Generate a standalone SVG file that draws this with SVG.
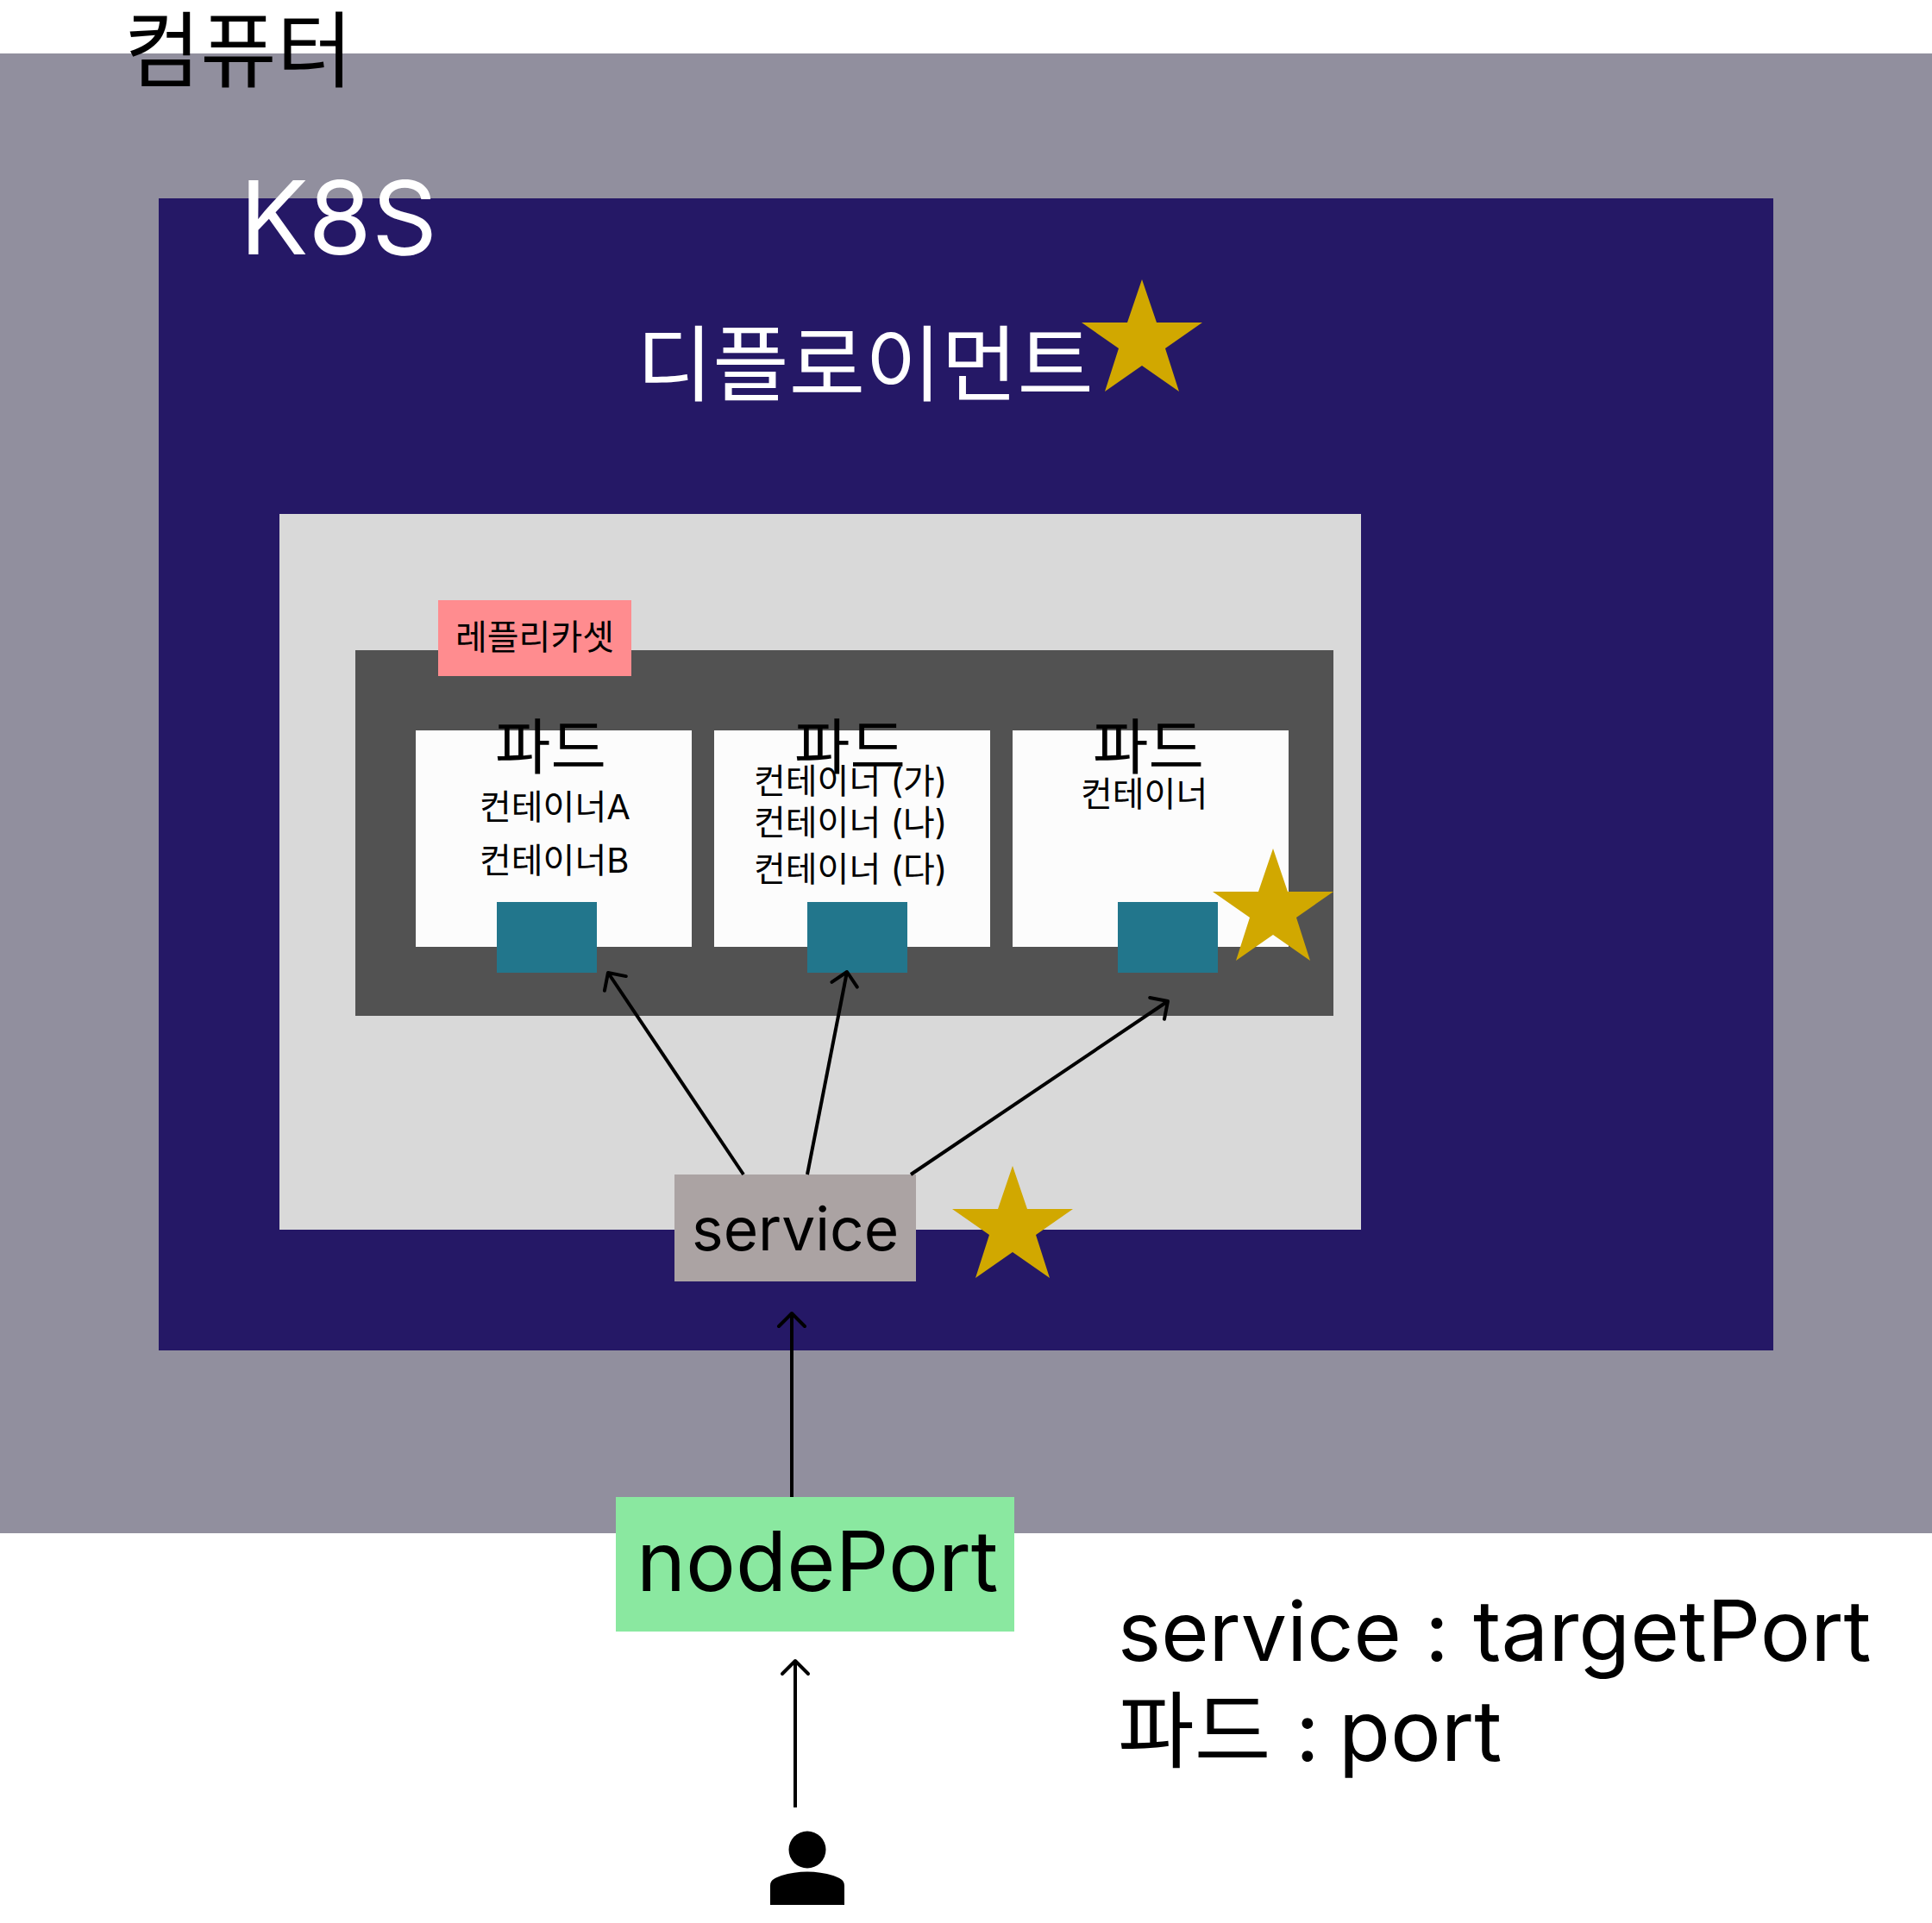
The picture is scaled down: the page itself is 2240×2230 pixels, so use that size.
<svg xmlns="http://www.w3.org/2000/svg" width="2240" height="2230" viewBox="0 0 2240 2230">
<style>
text{font-family:"Inter","Noto Sans CJK KR",sans-serif;fill:#000}
.arrow{fill:none;stroke:#000;stroke-width:4;stroke-linecap:butt}
.star{fill:#D1A800}
.teal{fill:#22768C}
.pod{fill:#FCFCFC}
</style>
<defs>
<marker id="head" markerUnits="userSpaceOnUse" markerWidth="36" markerHeight="36" refX="18" refY="18" orient="auto" overflow="visible">
<path d="M3 3L18 18L3 33" fill="none" stroke="#000" stroke-width="4" stroke-linecap="round" stroke-linejoin="round"/>
</marker>
<polygon id="starShape" points="70,0 87,50 140,50 97,80 113,130 70,100 27,130 43,80 0,50 53,50"/>
</defs>
<g id="computer"><rect x="0" y="62" width="2240" height="1716" fill="#918F9E"/><text x="144" y="93" font-size="96">컴퓨터</text></g>
<g id="k8s"><rect x="184" y="230" width="1872" height="1336" fill="#251866"/><text x="278" y="295" font-size="118.5" style="fill:#fff">K8S</text></g>
<g id="deployment"><text x="738" y="457" font-size="96" style="fill:#fff">디플로이먼트</text><use href="#starShape" class="star" x="1254" y="324"/></g>
<g id="deployment-box"><rect x="324" y="596" width="1254" height="830" fill="#D9D9D9"/></g>
<g id="replicaset"><rect x="412" y="754" width="1134" height="424" fill="#525252"/><rect x="508" y="696" width="224" height="88" fill="#FF8C8F"/><text x="528" y="753" font-size="40">레플리카셋</text></g>
<g id="pod1"><rect class="pod" x="482" y="847" width="320" height="251"/><text x="574" y="892" font-size="70">파드</text><text x="556" y="950" font-size="40">컨테이너A</text><text x="556" y="1012" font-size="40">컨테이너B</text><rect class="teal" x="576" y="1046" width="116" height="82"/></g>
<g id="pod2"><rect class="pod" x="828" y="847" width="320" height="251"/><text x="921" y="892" font-size="70">파드</text><text x="874" y="920" font-size="40">컨테이너 (가)</text><text x="874" y="968" font-size="40">컨테이너 (나)</text><text x="874" y="1022" font-size="40">컨테이너 (다)</text><rect class="teal" x="936" y="1046" width="116" height="82"/></g>
<g id="pod3"><rect class="pod" x="1174" y="847" width="320" height="251"/><text x="1267" y="892" font-size="70">파드</text><text x="1253" y="935" font-size="40">컨테이너</text><rect class="teal" x="1296" y="1046" width="116" height="82"/><use href="#starShape" class="star" x="1406" y="984"/></g>
<g id="service"><rect x="782" y="1362" width="280" height="124" fill="#ABA3A3"/><text x="802" y="1450" font-size="69.4">service</text><use href="#starShape" class="star" x="1104" y="1352"/></g>
<g id="nodeport"><rect x="714" y="1736" width="462" height="156" fill="#8AE8A0"/><text x="738" y="1845" font-size="96.7">nodePort</text></g>
<g id="note"><text x="1296" y="1926" font-size="95">service <tspan x="1652" font-size="96.7">: </tspan><tspan x="1708" font-size="97.6">targetPort</tspan></text><text x="1296" y="2042" font-size="96.4">파드 <tspan x="1502">: </tspan><tspan x="1552" font-size="98">port</tspan></text></g>
<g id="user"><ellipse cx="936" cy="2145" rx="21.5" ry="21.5" fill="#000"/><path d="M893 2209V2187C893 2179 899 2178 906 2175C925 2169 947 2169 966 2175C973 2178 979 2179 979 2187V2209Z" fill="#000"/></g>
<g id="connectors">
<line class="arrow" x1="862" y1="1362" x2="705" y2="1128" marker-end="url(#head)"/>
<line class="arrow" x1="936" y1="1362" x2="982" y2="1127" marker-end="url(#head)"/>
<line class="arrow" x1="1056" y1="1362" x2="1354" y2="1161" marker-end="url(#head)"/>
<line class="arrow" x1="918" y1="1736" x2="918" y2="1523" marker-end="url(#head)"/>
<line class="arrow" x1="922" y1="2096" x2="922" y2="1926" marker-end="url(#head)"/>
</g>
</svg>
